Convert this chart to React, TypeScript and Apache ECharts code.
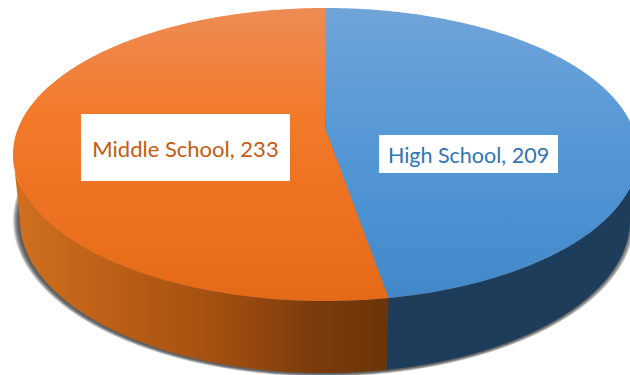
import React, { useEffect, useRef } from "react";
import * as echarts from "echarts";

const categories = ["High School", "Middle School"];
const values = [209, 233];
const labelTexts = ["High School, 209", "Middle School, 233"];
const textColors = ["#2E75B6", "#C55A11"];
const fontSizes = [21.5, 22];
const labelBoxes = [
  { x: 379, y: 135, w: 179, h: 38 },
  { x: 81, y: 114, w: 209, h: 67 },
];
const topStops = [
  [[0, "#70A4D9"], [0.35, "#5B9BD8"], [0.7, "#4C91D1"], [1, "#4287C8"]],
  [[0, "#EE8C55"], [0.35, "#F27A2B"], [0.7, "#EC7120"], [1, "#E56A18"]],
];
const sideStops = [
  [[0, "#1E3D5B"], [1, "#1E3D5A"]],
  [[0, "#D0701F"], [0.3, "#B95C15"], [0.55, "#A24F10"], [0.8, "#7C3B0C"], [1, "#6B3508"]],
];

const top = { cx: 325.5, cy: 154.5, rx: 312.5, ry: 146.5 };
const bottom = { cx: 325, cy: 220, rx: 305, ry: 153 };
const apex = { x: 325.5, y: 129 };
const e = (top.cy - apex.y) / top.ry;
const a = e / (1 + Math.sqrt(1 - e * e));
const k = (1 + a) / (1 - a);

const warp = (th: number) => {
  const phi = Math.PI - th;
  return Math.PI - 2 * Math.atan(k * Math.tan(phi / 2));
};
const rim = (el: typeof top, t: number) => [el.cx + el.rx * Math.sin(t), el.cy - el.ry * Math.cos(t)];
const arc = (el: typeof top, t0: number, t1: number) => {
  const n = Math.max(2, Math.ceil(Math.abs(t1 - t0) / 0.01));
  const out: number[][] = [];
  for (let i = 0; i <= n; i++) out.push(rim(el, t0 + ((t1 - t0) * i) / n));
  return out;
};
const grad = (x: number, y: number, x2: number, y2: number, stops: any[]) => ({
  type: "linear",
  x,
  y,
  x2,
  y2,
  global: true,
  colorStops: stops.map(([offset, color]) => ({ offset, color })),
});

export default function App() {
  const ref = useRef<HTMLDivElement>(null);
  useEffect(() => {
    document.body.style.margin = "0";
    document.body.style.overflow = "hidden";
    const chart = echarts.init(ref.current!, null, { renderer: "svg" });
    const total = values.reduce((s, v) => s + v, 0);
    const renderItem = (params: any) => {
      const i = params.dataIndex;
      const before = values.slice(0, i).reduce((s, v) => s + v, 0);
      const t0 = warp((before / total) * 2 * Math.PI + 1e-6);
      const t1 = warp(((before + values[i]) / total) * 2 * Math.PI - 1e-6);
      const overlap = i === 0 ? 0.004 : 0;
      const children: any[] = [];
      if (i === 0) {
        // soft drop shadow: nested translucent ellipses around the base
        for (let d = 6; d >= 1; d--) {
          children.push({
            type: "polygon",
            z2: 6 - d,
            silent: true,
            shape: {
              points: arc(
                { cx: bottom.cx - 1.2, cy: bottom.cy + 0.5, rx: bottom.rx + d * 0.95, ry: bottom.ry + d * 0.5 },
                0,
                2 * Math.PI
              ),
            },
            style: { fill: "rgba(40,40,40,0.2)" },
          });
        }
      }
      const s0 = Math.max(t0, Math.PI / 2);
      const s1 = Math.min(t1 + overlap, (3 * Math.PI) / 2);
      if (s1 > s0) {
        children.push({
          type: "polygon",
          z2: 10 + i,
          silent: true,
          shape: { points: [...arc(top, s0, s1), ...arc(bottom, s1, s0)] },
          style: { fill: grad(15, 0, 388, 0, sideStops[i]) },
        });
      }
      children.push({
        type: "polygon",
        z2: 20 + i,
        silent: true,
        shape: { points: [[apex.x, apex.y], ...arc(top, t0 - overlap, t1 + overlap)] },
        style: { fill: grad(0, 8, 0, 300, topStops[i]) },
      });
      const b = labelBoxes[i];
      children.push({
        type: "rect",
        z2: 30,
        silent: true,
        shape: { x: b.x, y: b.y, width: b.w, height: b.h },
        style: { fill: "#FFFFFF" },
      });
      children.push({
        type: "text",
        z2: 31,
        silent: true,
        style: {
          x: b.x + b.w / 2,
          y: b.y + b.h / 2 + 0.5,
          text: labelTexts[i],
          fill: textColors[i],
          font: `${fontSizes[i]}px Lato`,
          align: "center",
          verticalAlign: "middle",
        },
      });
      return { type: "group", children };
    };
    chart.setOption({
      animation: false,
      backgroundColor: "#FFFFFF",
      series: [
        {
          type: "custom",
          coordinateSystem: "none",
          renderItem,
          data: categories.map((name, i) => ({ name, value: values[i] })),
        },
      ],
    });
    return () => chart.dispose();
  }, []);
  return <div ref={ref} style={{ position: "absolute", left: 0, top: 0, width: 630, height: 375 }} />;
}
